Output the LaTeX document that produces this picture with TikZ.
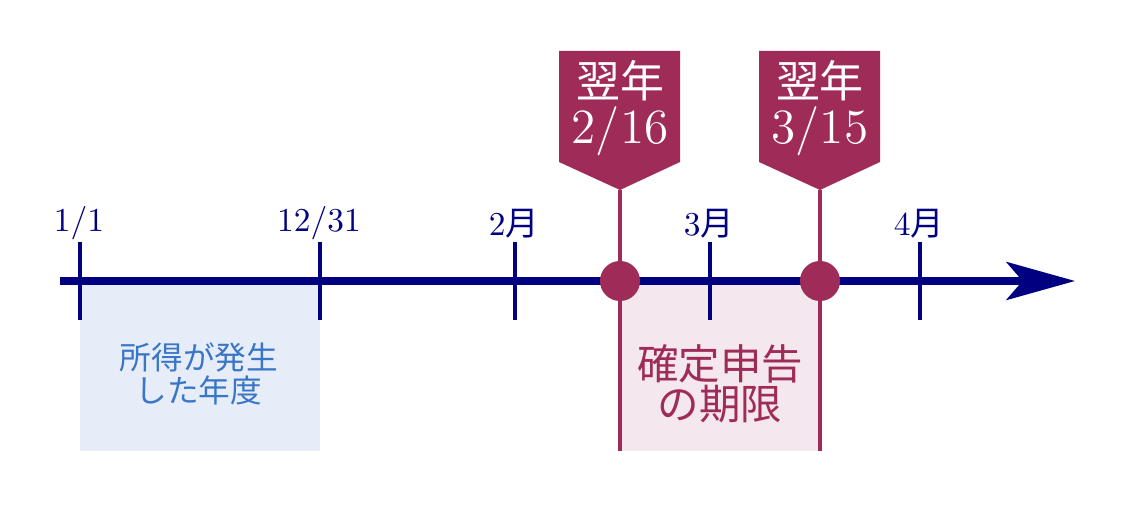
\documentclass[tikz,border=0pt]{standalone}
\usepackage{fontspec}
\newfontfamily\jp{Noto Sans CJK JP}
\usetikzlibrary{positioning}
\usetikzlibrary{arrows.meta}
\definecolor{navyline}{HTML}{000080}
\definecolor{deadline}{HTML}{9E2B58}
\definecolor{yearblue}{HTML}{3A76C6}
\definecolor{yearfill}{HTML}{E7EDF8}
\definecolor{deadfill}{HTML}{F4E7ED}
\tikzstyle{axis}=[draw=navyline, line width=2pt, -{Stealth[length=19.5pt, width=10.8pt, inset=4.6pt]}]
\tikzstyle{tick}=[draw=navyline, line width=1.1pt]
\tikzstyle{ticklabel}=[font=\fontsize{9.5}{11}\selectfont, text=navyline, inner sep=0pt, anchor=base]
\tikzstyle{dot}=[circle, fill=deadline, minimum size=0.4cm, inner sep=0pt]
\tikzstyle{limitline}=[draw=deadline, line width=0.9pt]
\tikzstyle{bannertext}=[text=white, align=center, inner sep=0pt, font=\fontsize{14}{13}\selectfont]
\tikzstyle{yeartext}=[text=yearblue, align=center, font=\fontsize{9}{9.4}\selectfont\jp]
\tikzstyle{limittext}=[text=deadline, align=center, font=\fontsize{11.8}{11.4}\selectfont\jp]
\newcommand{\tsuki}{{\jp 月}}

\begin{document}
\begin{tikzpicture}[x=0.01cm, y=-0.01cm]
\useasboundingbox (0,0) rectangle (1123,522);

%periods
\fill[yearfill] (80,281) rectangle (320,451);
\node[yeartext] (year) at (199,374) {所得が発生\\した年度};
\fill[deadfill] (620,281) rectangle (820,451);
\node[limittext] (limit) at (720,384) {確定申告\\の期限};

%axis
\coordinate (axstart) at (60,281);
\coordinate (axend) at (1075,281);
\draw[axis] (axstart) -- (axend);

\foreach \x/\name/\lab/\y in {80/t1/{1/1}/232, 320/t2/{12/31}/232, 515/t3/{2\tsuki}/236, 710/t4/{3\tsuki}/236, 920/t5/{4\tsuki}/236}{
    \coordinate (\name top) at (\x,242);
    \coordinate (\name bot) at (\x,320);
    \draw[tick] (\name top) -- (\name bot);
    \node[ticklabel] (\name lab) at (\x-1,\y) {\lab};
}

%deadlines
\foreach \x/\name/\date in {620/feb/{2/16}, 820/mar/{3/15}}{
    \fill[deadline] (\x-61,51) -- (\x+60,51) -- (\x+60,162) -- (\x,190) -- (\x-61,162) -- cycle;
    \node[bannertext] (\name) at (\x,108) {{\jp\fontsize{12.5}{13}\selectfont 翌年}\\\date};
    \coordinate (\name tip) at (\x,190);
    \coordinate (\name end) at (\x,451);
    \draw[limitline] (\name tip) -- (\name end);
    \node[dot] (\name dot) at (\x,281) {};
}

\end{tikzpicture}
\end{document}
